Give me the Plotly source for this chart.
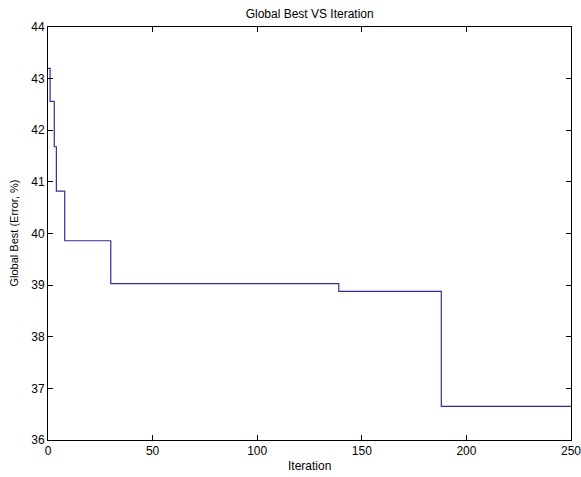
import plotly.graph_objects as go

# Step points of the global-best curve (iteration, error %)
iterations = [0, 1, 3, 4, 8, 30, 139, 188, 250]
global_best = [43.2, 42.56, 41.68, 40.82, 39.86, 39.03, 38.88, 36.65, 36.65]

x_ticks = [0, 50, 100, 150, 200, 250]
y_ticks = [36, 37, 38, 39, 40, 41, 42, 43, 44]

FONT = "Liberation Sans Narrow, Liberation Sans, Arial, sans-serif"

fig = go.Figure()
fig.add_trace(go.Scatter(
    x=iterations, y=global_best, mode="lines",
    line=dict(color="#2e2e96", width=1.2, shape="hv"),
    showlegend=False, hoverinfo="skip",
))

axis_common = dict(
    showline=True, linecolor="black", linewidth=1, mirror="ticks",
    ticks="inside", ticklen=5, tickwidth=1, tickcolor="black",
    showgrid=False, zeroline=False, automargin=False,
    ticklabeloverflow="allow",
    tickfont=dict(family=FONT, size=12, color="black"),
)

L, R, T, B = 48, 10, 27, 37
W, H = 581, 477
pw, ph = W - L - R, H - T - B

fig.update_layout(
    width=W, height=H,
    margin=dict(l=L, r=R, t=T, b=B),
    paper_bgcolor="white", plot_bgcolor="white",
    title=dict(text="Global Best VS Iteration", x=0.533, xanchor="center",
               y=0.972, yanchor="middle",
               font=dict(family=FONT, size=12, color="black")),
    xaxis=dict(range=[0, 250], tickvals=x_ticks, **axis_common),
    yaxis=dict(range=[36, 44], tickvals=y_ticks, **axis_common),
    annotations=[
        dict(text="Iteration", xref="paper", yref="paper",
             x=0.5, y=-(466 - (T + ph)) / ph, xanchor="center", yanchor="middle",
             showarrow=False, font=dict(family=FONT, size=12, color="black")),
        dict(text="Global Best (Error, %)", xref="paper", yref="paper",
             x=-(L - 13) / pw, y=0.5, xanchor="center", yanchor="middle",
             textangle=-90, showarrow=False,
             font=dict(family=FONT, size=11, color="black")),
    ],
)

fig.write_html("out.html", config={"displayModeBar": False},
               post_script="document.body.style.margin='0';")
